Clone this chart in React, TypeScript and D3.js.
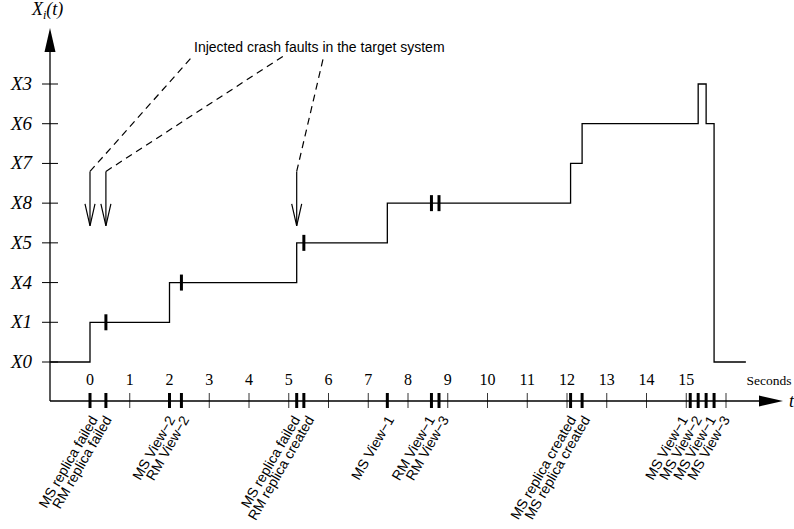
import React from 'react'
import * as d3 from 'd3'

// states of the system, bottom to top of the y axis
const levels = ['X0', 'X1', 'X4', 'X5', 'X8', 'X7', 'X6', 'X3']

// step function X_i(t)
const stepTimes = [-1, 0, 2, 5.2, 7.48, 12.09, 12.38, 15.3, 15.5, 15.7, 16.5]
const stepStates = ['X0', 'X1', 'X4', 'X5', 'X8', 'X7', 'X6', 'X3', 'X6', 'X0', 'X0']

// events shown on the time axis
const eventTimes = [0, 0.4, 2, 2.3, 5.2, 5.38, 7.48, 8.59, 8.78, 12.09, 12.38, 15.1, 15.3, 15.5, 15.7]
const eventLabels = [
  'MS replica failed', 'RM replica failed',
  'MS View\u22122', 'RM View\u22122',
  'MS replica failed', 'RM replica created',
  'MS View\u22121',
  'RM View\u22121', 'RM View\u22123',
  'MS replica created', 'MS replica created',
  'MS View\u22121', 'MS View\u22122', 'MS View\u22121', 'MS View\u22123',
]

// events also marked on the step line
const lineMarkTimes = [0.4, 2.3, 5.38, 8.59, 8.78]

// injected crash faults
const faultTimes = [0, 0.4, 5.2]
const faultText = 'Injected crash faults in the target system'

const xTicks = d3.range(0, 17)
const xTickLabels = ['0', '1', '2', '3', '4', '5', '6', '7', '8', '9', '10', '11', '12', '13', '14', '15']

const W = 794
const H = 529
const axisX = 50
const axisY = 401

const serif = '"Liberation Serif", "Times New Roman", serif'
const sans = '"Liberation Sans", Arial, sans-serif'

const x = d3.scaleLinear().domain([0, 16]).range([90, 726])
const y = d3.scalePoint<string>().domain(levels).range([362, 84])

const stateAt = (t: number) => stepStates[d3.bisectRight(stepTimes, t) - 1]

// labels of events that are close together are stacked like lines of one block
const labelPositions = () => {
  const groups: number[][] = []
  eventTimes.forEach((t, i) => {
    const g = groups[groups.length - 1]
    if (g && t - eventTimes[g[g.length - 1]] < 0.5) g.push(i)
    else groups.push([i])
  })
  const pos: number[] = []
  const sp = 14
  groups.forEach(g => {
    const c = d3.mean(g, i => x(eventTimes[i])) as number
    g.forEach((i, k) => { pos[i] = c + (k - (g.length - 1) / 2) * sp })
  })
  return pos
}

export default function App() {
  const stepData = stepTimes.map((t, i) => ({ t, s: stepStates[i] }))
  const stepLine = d3.line<{ t: number; s: string }>()
    .x(d => x(d.t))
    .y(d => y(d.s) as number)
    .curve(d3.curveStepAfter)

  const labelX = labelPositions()

  const textX = 194
  const textY = 52
  const faultTargets = [
    [textX - 3, textY + 6],
    [textX + 91, textY + 3],
    [textX + 130, textY + 3],
  ]
  const arrowTop = (y('X7') as number) + 8
  const arrowTip = (y('X5') as number) - 17

  return (
    <div style={{ position: 'absolute', left: 0, top: 0 }}>
      <svg width={W} height={H} style={{ display: 'block', background: '#fff' }}>
        {/* y axis */}
        <line x1={axisX} y1={axisY} x2={axisX} y2={50} stroke="#000" strokeWidth={1.3} />
        <path d={`M${axisX},28 L${axisX - 5.5},52 L${axisX + 5.5},52 Z`} fill="#000" />
        {levels.map(l => (
          <g key={l}>
            <line x1={axisX - 8} x2={axisX + 8} y1={y(l)} y2={y(l)} stroke="#000" strokeWidth={1} />
            <text x={32} y={(y(l) as number) + 6} textAnchor="end" fontFamily={serif}
              fontStyle="italic" fontSize={19}>{l}</text>
          </g>
        ))}
        <text x={32} y={15} fontFamily={serif} fontStyle="italic" fontSize={18}>
          X<tspan fontSize={12} dy={4}>i</tspan><tspan dy={-4}>(t)</tspan>
        </text>

        {/* x axis */}
        <line x1={axisX} y1={axisY} x2={762} y2={axisY} stroke="#000" strokeWidth={1.3} />
        <path d={`M783,${axisY} L759,${axisY - 5.5} L759,${axisY + 5.5} Z`} fill="#000" />
        <text x={789} y={407} fontFamily={serif} fontStyle="italic" fontSize={18}>t</text>
        <text x={769} y={385} textAnchor="middle" fontFamily={serif} fontSize={13.5}>Seconds</text>
        {xTicks.map((t, i) => (
          <g key={t}>
            <line x1={x(t)} x2={x(t)} y1={axisY - 8} y2={axisY + 7} stroke="#000" strokeWidth={0.8} />
            {xTickLabels[i] !== undefined && (
              <text x={x(t)} y={385} textAnchor="middle" fontFamily={serif} fontSize={16}>{xTickLabels[i]}</text>
            )}
          </g>
        ))}
        {eventTimes.map((t, i) => (
          <g key={i}>
            <line x1={x(t)} x2={x(t)} y1={axisY - 8} y2={axisY + 7} stroke="#000" strokeWidth={3} />
            <text transform={`translate(${labelX[i] + 3},${417}) rotate(-60)`} textAnchor="end" dy="0.35em"
              fontFamily={sans} fontSize={14}>{eventLabels[i]}</text>
          </g>
        ))}

        {/* step line */}
        <path d={stepLine(stepData) || ''} fill="none" stroke="#000" strokeWidth={1.3} />
        {lineMarkTimes.map((t, i) => (
          <line key={i} x1={x(t)} x2={x(t)} y1={(y(stateAt(t)) as number) - 8}
            y2={(y(stateAt(t)) as number) + 8} stroke="#000" strokeWidth={3} />
        ))}

        {/* fault annotation */}
        <text x={textX} y={textY} fontFamily={sans} fontSize={14}>{faultText}</text>
        {faultTimes.map((t, i) => {
          const fx = x(t)
          const [tx, ty] = faultTargets[i]
          return (
            <g key={i} fill="none" stroke="#000" strokeWidth={1.2}>
              <line x1={fx} x2={fx} y1={arrowTop} y2={arrowTip} />
              <path d={`M${fx - 5},${arrowTip - 22} L${fx},${arrowTip} L${fx + 5},${arrowTip - 22}`} />
              <line x1={fx} y1={arrowTop} x2={tx} y2={ty} strokeDasharray="7,5" />
            </g>
          )
        })}
      </svg>
    </div>
  )
}
